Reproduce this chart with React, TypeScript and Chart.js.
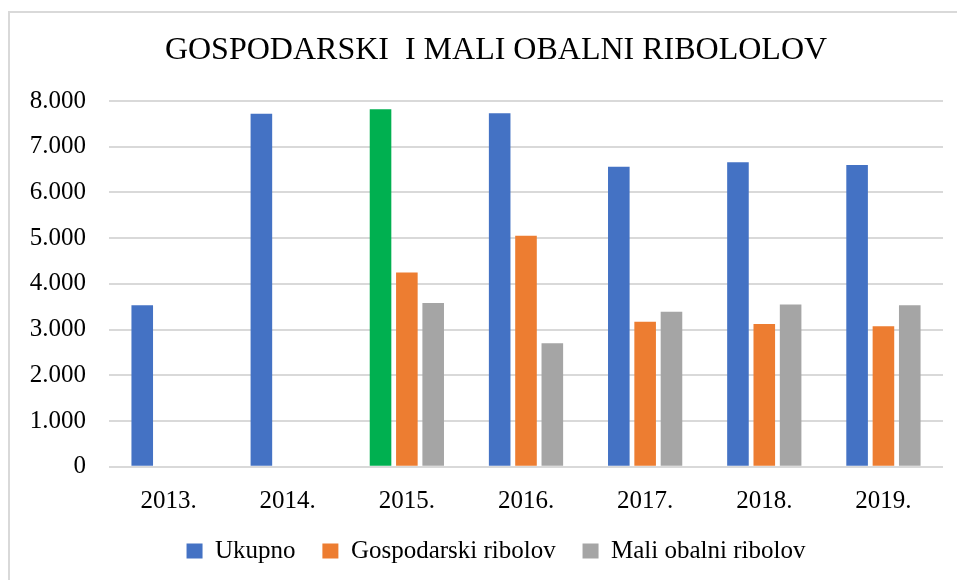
import React, { useEffect, useRef } from 'react';
import { Chart, registerables } from 'chart.js';

Chart.register(...registerables);

const categories = ['2013.', '2014.', '2015.', '2016.', '2017.', '2018.', '2019.'];
const seriesNames = ['Ukupno', 'Gospodarski ribolov', 'Mali obalni ribolov'];
const ukupno = [3530, 7720, 7820, 7730, 6560, 6660, 6600];
const gospodarski = [null, null, 4250, 5050, 3170, 3120, 3070];
const maliObalni = [null, null, 3580, 2700, 3390, 3550, 3530];
const yTickLabels = ['0', '1.000', '2.000', '3.000', '4.000', '5.000', '6.000', '7.000', '8.000'];
const highlightedCategory = '2015.';
const titleText = 'GOSPODARSKI  I MALI OBALNI RIBOLOLOV';

const FONT = '"Liberation Serif", "Times New Roman", Times, serif';
const BLUE = '#4472C4';
const ORANGE = '#ED7D31';
const GRAY = '#A5A5A5';
const GREEN = '#00B050';
const GRID = '#D9D9D9';

export default function App() {
  const ref = useRef<HTMLCanvasElement | null>(null);

  useEffect(() => {
    if (!ref.current) return;
    const hiIndex = categories.indexOf(highlightedCategory);
    const chart = new Chart(ref.current, {
      type: 'bar',
      data: {
        labels: categories,
        datasets: [
          {
            label: seriesNames[0],
            data: ukupno,
            backgroundColor: (c: any) => (c.dataIndex === hiIndex ? GREEN : BLUE),
            borderWidth: 0,
          },
          {
            label: seriesNames[1],
            data: gospodarski,
            backgroundColor: ORANGE,
            borderWidth: 0,
          },
          {
            label: seriesNames[2],
            data: maliObalni,
            backgroundColor: GRAY,
            borderWidth: 0,
          },
        ],
      },
      options: {
        animation: false,
        responsive: false,
        maintainAspectRatio: false,
        layout: { padding: { left: 0, right: 0, top: 0, bottom: 6.5 } },
        datasets: {
          bar: { categoryPercentage: 0.663, barPercentage: 0.82 },
        },
        plugins: {
          title: {
            display: true,
            text: titleText,
            color: '#000',
            font: { family: FONT, size: 32, weight: 'normal' },
            padding: { top: 18, bottom: 31.6 },
          },
          legend: {
            position: 'bottom',
            labels: {
              color: '#000',
              font: { family: FONT, size: 25 },
              boxWidth: 16,
              boxHeight: 15,
              padding: 26.8,
            },
          },
          tooltip: { enabled: false },
        },
        scales: {
          x: {
            grid: { display: false },
            border: { display: false },
            ticks: {
              color: '#000',
              font: { family: FONT, size: 25 },
              padding: 12,
            },
            afterFit: (s: any) => {
              s.height = 45;
            },
          },
          y: {
            min: 0,
            max: 8000,
            grid: { color: GRID, lineWidth: 2, drawTicks: false },
            border: { display: false },
            ticks: {
              stepSize: 1000,
              color: '#000',
              font: { family: FONT, size: 25 },
              padding: 23,
              callback: (_v: any, i: number) => yTickLabels[i],
            },
            afterFit: (s: any) => {
              s.width = 99;
            },
          },
          yRightSpace: {
            position: 'right',
            min: 0,
            max: 1,
            grid: { display: false, drawTicks: false },
            border: { display: false },
            ticks: { display: false },
            afterFit: (s: any) => {
              s.width = 39;
            },
          },
        },
      },
    });
    return () => chart.destroy();
  }, []);

  return (
    <div style={{ position: 'fixed', left: 0, top: 0, width: 957, height: 580, overflow: 'hidden', background: '#fff' }}>
      <div
        style={{
          position: 'absolute',
          left: 8,
          top: 11,
          width: 976,
          height: 600,
          borderLeft: `2px solid ${GRID}`,
          borderTop: `2px solid ${GRID}`,
          borderRight: `2px solid ${GRID}`,
          boxSizing: 'border-box',
          background: '#fff',
        }}
      >
        <canvas ref={ref} width={972} height={567} style={{ display: 'block', width: 972, height: 567 }} />
      </div>
    </div>
  );
}
